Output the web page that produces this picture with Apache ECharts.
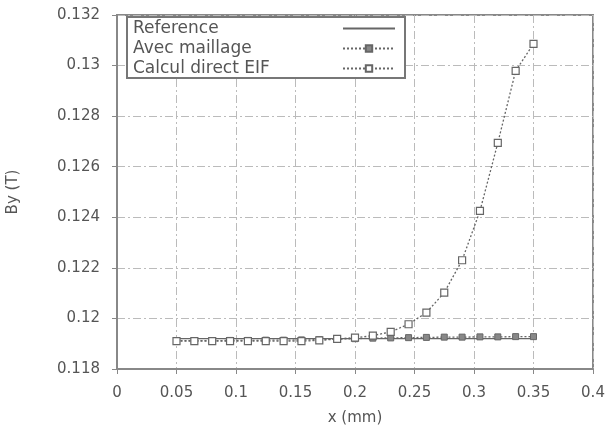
<!DOCTYPE html>
<html><head><meta charset="utf-8">
<script src="https://cdn.jsdelivr.net/npm/echarts@6/dist/echarts.min.js"></script>
<style>html,body{margin:0;padding:0;background:#fff}#c{width:605px;height:435px}</style>
</head><body><div id="c"></div>
<script>
var xValues = [0.05,0.065,0.08,0.095,0.11,0.125,0.14,0.155,0.17,0.185,0.2,0.215,0.23,0.245,0.26,0.275,0.29,0.305,0.32,0.335,0.35];
var reference = [0.1192,0.1192,0.1192,0.1192,0.1192,0.1192,0.1192,0.1192,0.1192,0.1192,0.1192,0.1192,0.1192,0.1192,0.1192,0.1192,0.1192,0.1192,0.1192,0.1192,0.1192];
var avecMaillage = [0.11912,0.11912,0.11912,0.11913,0.11913,0.11914,0.11914,0.11915,0.11916,0.11918,0.1192,0.11922,0.11923,0.11924,0.11925,0.11926,0.11926,0.11927,0.11927,0.11928,0.11928];
var calculEIF = [0.1191,0.1191,0.1191,0.1191,0.1191,0.1191,0.1191,0.1191,0.11913,0.11919,0.11924,0.11932,0.11947,0.11977,0.12023,0.12102,0.1223,0.12425,0.12694,0.12979,0.13086];
var seriesNames = ['Reference','Avec maillage','Calcul direct EIF'];

function pairs(v){ return xValues.map(function(x,i){ return [x, v[i]]; }); }
var gray = '#666';
var txt = '#555';
var gridLine = {show:true, lineStyle:{color:'#bbb', width:1, type:[8,3,2,3]}};
var chart = echarts.init(document.getElementById('c'));
chart.setOption({
  animation:false,
  textStyle:{fontFamily:'DejaVu Sans, sans-serif'},
  grid:{left:117, right:12, top:15, bottom:66, show:true, borderColor:'#888', borderWidth:2, outerBoundsMode:'none', containLabel:false},
  legend:{
    data:[{name:seriesNames[0], itemStyle:{opacity:0}}, seriesNames[1], seriesNames[2]],
    orient:'vertical', left:127, top:17, align:'right',
    padding:[3,9,1,6], itemGap:3, itemWidth:52, itemHeight:8,
    borderColor:'#777', borderWidth:2, backgroundColor:'#fff',
    formatter:function(n){ return '{a|' + n + '}'; },
    textStyle:{color:txt, fontSize:17,
      rich:{a:{width:205, align:'left', fontSize:17, color:txt}}}
  },
  xAxis:{
    type:'value', min:0, max:0.4, interval:0.05, name:'x (mm)', nameLocation:'middle', nameGap:42,
    nameTextStyle:{color:txt, fontSize:15},
    axisLine:{show:true, lineStyle:{color:'#888', width:2}},
    axisTick:{show:true, length:5, lineStyle:{color:'#888'}},
    axisLabel:{color:txt, fontSize:15, margin:17},
    splitLine:gridLine
  },
  yAxis:{
    type:'value', min:0.118, max:0.132, interval:0.002, name:'By (T)', nameLocation:'middle', nameGap:96,
    nameTextStyle:{color:txt, fontSize:15},
    axisLine:{show:true, lineStyle:{color:'#888', width:2}},
    axisTick:{show:true, length:5, lineStyle:{color:'#888'}},
    axisLabel:{color:txt, fontSize:15, margin:17, formatter:function(v){return String(+v.toFixed(3));}},
    splitLine:gridLine
  },
  series:[
    {name:seriesNames[0], type:'line', data:pairs(reference), showSymbol:false, symbol:'none',
     lineStyle:{color:gray, width:1.3}, itemStyle:{color:gray}},
    {name:seriesNames[1], type:'line', data:pairs(avecMaillage), symbol:'rect', symbolSize:6,
     lineStyle:{color:gray, width:1.3, type:[2,2]}, itemStyle:{color:'#888', borderColor:'#666', borderWidth:1}},
    {name:seriesNames[2], type:'line', data:pairs(calculEIF), symbol:'rect', symbolSize:7,
     lineStyle:{color:gray, width:1.3, type:[2,2]}, itemStyle:{color:'#fff', borderColor:'#666', borderWidth:1.2}}
  ]
});
</script></body></html>
